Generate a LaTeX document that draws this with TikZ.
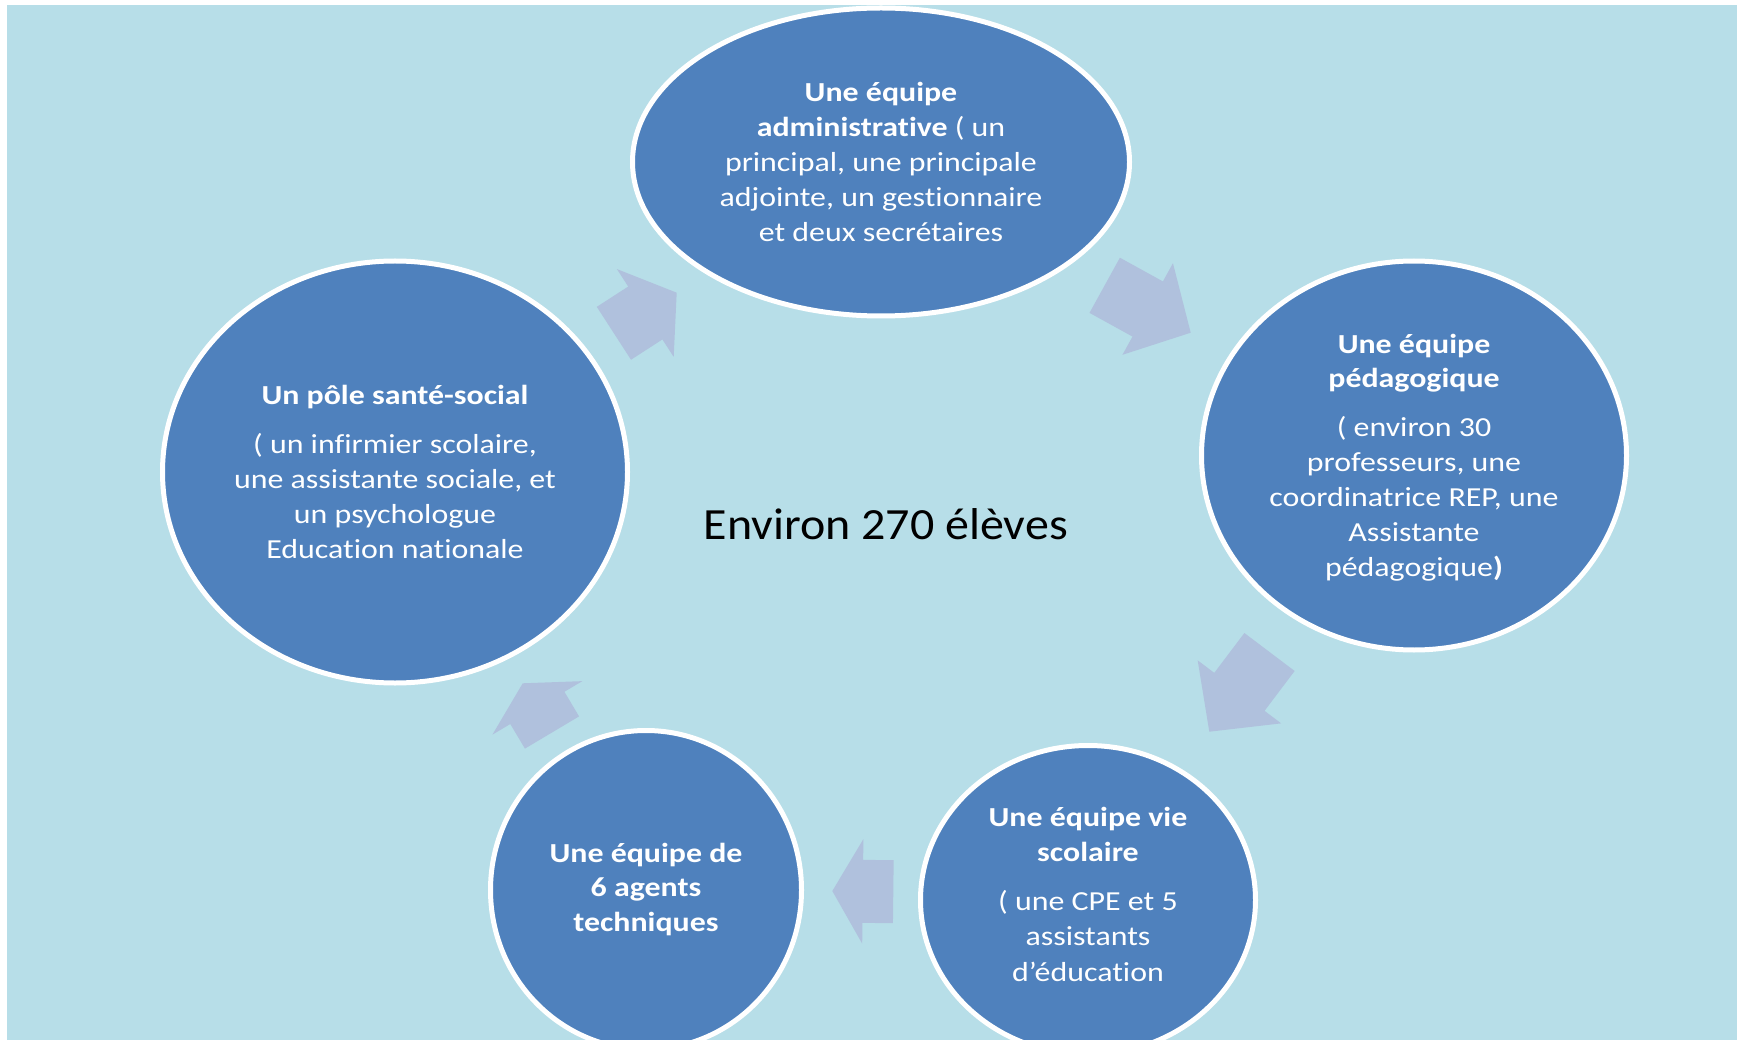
\documentclass[tikz,border=0pt]{standalone}
\usepackage{fontspec}
\setmainfont{Carlito}
\newfontfamily\ellfont{Carlito}[FakeStretch=1.16, Ligatures=NoCommon]
\newfontfamily\ctrfont{Carlito}[FakeStretch=1.076, Ligatures=NoCommon]
\usetikzlibrary{shapes.geometric,calc}
\definecolor{bgblue}{HTML}{B7DEE8}
\definecolor{ellblue}{HTML}{4F81BD}
\definecolor{arrowblue}{HTML}{B0C1DD}
\newcommand\cyclearrow[3]{%
  \coordinate (#3m) at ($(#1)!0.5!(#2)$);
  \fill[arrowblue]
    ($(#1)!31.5pt!90:(#2)$) -- ($(#3m)!31.5pt!90:(#2)$) -- ($(#3m)!52.3pt!90:(#2)$)
    -- (#2) --
    ($(#3m)!52.3pt!-90:(#2)$) -- ($(#3m)!31.5pt!-90:(#2)$) -- ($(#1)!31.5pt!-90:(#2)$) -- cycle;
}
\begin{document}
\begin{tikzpicture}[x=1pt,y=-1pt,
  ell/.style={ellipse, draw=white, line width=5pt, fill=ellblue, inner sep=0pt},
  txt/.style={text=white, font=\ellfont\fontsize{27.5}{35}\selectfont, anchor=base, inner sep=0pt},
  centertxt/.style={text=black, font=\ctrfont\fontsize{44.6}{54}\selectfont, anchor=base, inner sep=0pt}]
\useasboundingbox (0,0) rectangle (1740,1040);
\clip (0,0) rectangle (1740,1040);
\fill[bgblue] (7,5) rectangle (1737,1040);

% ellipses
\node[ell, minimum width=497pt, minimum height=308pt] (adm) at (881,162) {};
\node[ell, minimum width=425pt, minimum height=389pt] (ped) at (1414,455.5) {};
\node[ell, minimum width=465pt, minimum height=422pt] (sante) at (395,472) {};
\node[ell, minimum width=311pt, minimum height=319pt] (agents) at (646,890) {};
\node[ell, minimum width=335pt, minimum height=309pt] (vie) at (1088,900) {};

% arrows
\coordinate (t1) at (613.9,333.3); \coordinate (p1) at (676.7,292.7);
\coordinate (t2) at (1104.7,285.3); \coordinate (p2) at (1190.7,332.7);
\coordinate (t3) at (1269.5,652); \coordinate (p3) at (1209.3,731.7);
\coordinate (t4) at (893.3,891.7); \coordinate (p4) at (832.3,891);
\coordinate (t5) at (552,732.5); \coordinate (p5) at (522.7,683.3);
\cyclearrow{t1}{p1}{a1}
\cyclearrow{t2}{p2}{a2}
\cyclearrow{t3}{p3}{a3}
\cyclearrow{t4}{p4}{a4}
\cyclearrow{t5}{p5}{a5}

% top ellipse text
\node[txt] (adm1) at (881,101.7) {\textbf{Une équipe}};
\node[txt] (adm2) at (881,136.7) {\textbf{administrative} ( un};
\node[txt] (adm3) at (881,171.7) {principal, une principale};
\node[txt] (adm4) at (881,206.7) {adjointe, un gestionnaire};
\node[txt] (adm5) at (881,241.7) {et deux secrétaires};

% right ellipse text
\node[txt] (ped1) at (1414,353.3) {\textbf{Une équipe}};
\node[txt] (ped2) at (1414,387.3) {\textbf{pédagogique}};
\node[txt] (ped3) at (1414,436.7) {( environ 30};
\node[txt] (ped4) at (1414,471.7) {professeurs, une};
\node[txt] (ped5) at (1414,506.7) {coordinatrice REP, une};
\node[txt] (ped6) at (1414,541.7) {Assistante};
\node[txt] (ped7) at (1414,576.7) {pédagogique\textbf{)}};

% left ellipse text
\node[txt] (san1) at (395,404.6) {\textbf{Un pôle santé-social}};
\node[txt] (san2) at (395,453.4) {( un infirmier scolaire,};
\node[txt] (san3) at (395,488.9) {une assistante sociale, et};
\node[txt] (san4) at (395,523.3) {un psychologue};
\node[txt] (san5) at (395,558.8) {Education nationale};

% bottom left text
\node[txt] (ag1) at (646,862.3) {\textbf{Une équipe de}};
\node[txt] (ag2) at (646,896.7) {\textbf{6 agents}};
\node[txt] (ag3) at (646,931) {\textbf{techniques}};

% bottom right text
\node[txt] (vie1) at (1088,826) {\textbf{Une équipe vie}};
\node[txt] (vie2) at (1088,861.7) {\textbf{scolaire}};
\node[txt] (vie3) at (1088,910.7) {( une CPE et 5};
\node[txt] (vie4) at (1088,945.7) {assistants};
\node[txt] (vie5) at (1088,981) {d’éducation};

% centre
\node[centertxt] (centre) at (885.8,539.3) {Environ 270 élèves};
\end{tikzpicture}
\end{document}
